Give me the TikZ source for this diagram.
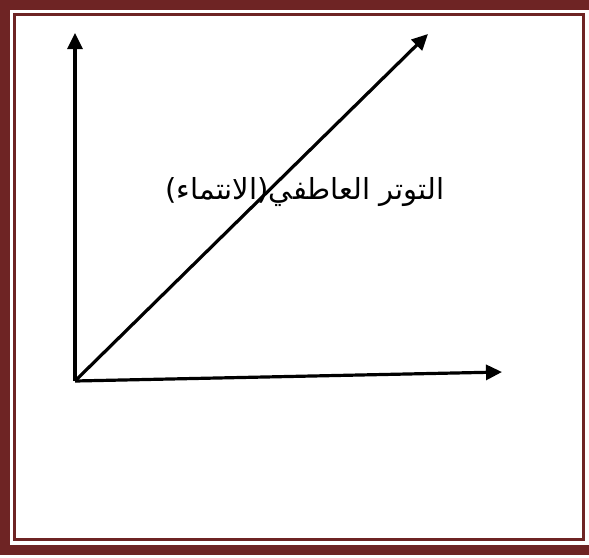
\documentclass[tikz,border=0pt]{standalone}
\usepackage{fontspec}
\newfontfamily\arabicfont[Script=Arabic]{DejaVu Sans}
\TeXXeTstate=1
\usetikzlibrary{arrows.meta}
\definecolor{framered}{RGB}{110,36,36}
\begin{document}
\begin{tikzpicture}[
  x=1pt, y=-1pt,
  axis/.style={line width=3.2pt, -{Triangle[length=16pt,width=15pt]}},
  outerframe/.style={draw=framered, line width=10pt},
  innerframe/.style={draw=framered, line width=3pt},
  label/.style={font=\arabicfont\fontsize{29}{34}\selectfont},
]
\useasboundingbox (0,0) rectangle (589,557);

% Page frame
\draw[outerframe] (589,5) -- (5,5) -- (5,550) -- (589,550);
\draw[innerframe] (14.5,14.5) rectangle (583.5,539.5);

% Axes
\coordinate (origin) at (75,381);
\coordinate (ytip) at (75,33);
\coordinate (xtip) at (502,372);
\coordinate (dtip) at (428,34);

\draw[axis] (origin) -- (ytip);
\draw[axis] (origin) -- (xtip);
\draw[axis] (origin) -- (dtip);

% Label
\node[label] (tension) at (305,192) {\beginR التوتر العاطفي(الانتماء)\endR};

\end{tikzpicture}
\end{document}
